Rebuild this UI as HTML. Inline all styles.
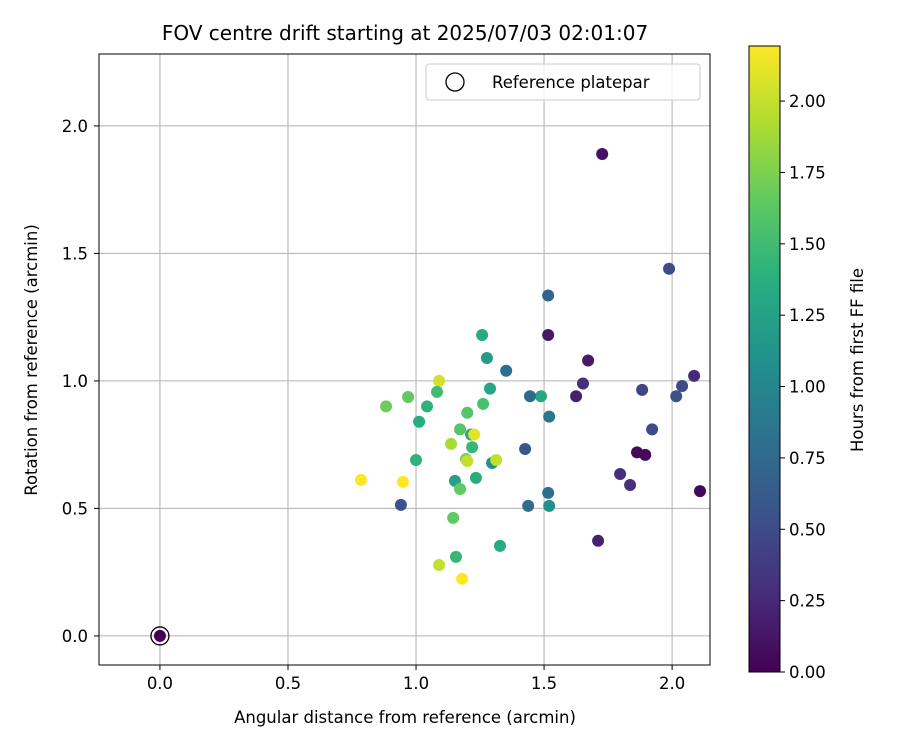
<!DOCTYPE html>
<html><head><meta charset="utf-8"><style>
body{margin:0;background:#fff;font-family:"Liberation Sans","DejaVu Sans",sans-serif}
text{font-family:"DejaVu Sans","Liberation Sans",sans-serif}
</style></head><body>
<svg id="chart" width="900" height="750" xmlns="http://www.w3.org/2000/svg">
<defs><linearGradient id="vir" x1="0" y1="1" x2="0" y2="0">
<stop offset="0" stop-color="#440154"/><stop offset="0.125" stop-color="#472d7b"/><stop offset="0.25" stop-color="#3b528b"/><stop offset="0.375" stop-color="#2c728e"/><stop offset="0.5" stop-color="#21918c"/><stop offset="0.625" stop-color="#28ae80"/><stop offset="0.75" stop-color="#5ec962"/><stop offset="0.875" stop-color="#addc30"/><stop offset="1" stop-color="#fde725"/></linearGradient></defs>
<rect width="900" height="750" fill="#fff"/>
<text x="405" y="40" text-anchor="middle" font-size="20">FOV centre drift starting at 2025/07/03 02:01:07</text>
<g id="grid"></g>
<g id="ticks"></g>
<g id="points"></g>
<rect x="99" y="54" width="611" height="611" fill="none" stroke="#000" stroke-width="1"/>
<text x="405" y="723" text-anchor="middle" font-size="16.5">Angular distance from reference (arcmin)</text>
<text transform="translate(37,360) rotate(-90)" text-anchor="middle" font-size="16.5">Rotation from reference (arcmin)</text>
<g>
<rect x="426" y="64" width="274" height="36" rx="3" fill="#fff" fill-opacity="0.8" stroke="#ccc"/>
<circle cx="455" cy="82" r="9" fill="none" stroke="#000" stroke-width="1.3"/>
<text x="492" y="88" font-size="16.5">Reference platepar</text>
</g>
<rect x="749" y="46" width="31" height="626" fill="url(#vir)" stroke="#000" stroke-width="1"/>
<g id="cticks"></g>
<text transform="translate(863,360) rotate(-90)" text-anchor="middle" font-size="16.5">Hours from first FF file</text>
</svg>
<script>
const xs=[1.727,1.988,1.516,1.516,1.258,1.277,1.352,1.672,1.652,2.086,2.039,1.883,2.016,1.625,1.488,1.445,1.52,1.922,1.289,1.262,1.2,1.09,1.082,0.969,0.883,1.043,1.012,1.172,1.137,1.215,1.227,1.219,1.426,1.0,1.195,1.2,1.297,1.313,1.234,1.152,1.172,1.863,1.895,1.797,1.836,2.109,0.785,0.949,0.941,1.516,1.438,1.52,1.145,1.328,1.156,1.711,1.09,1.18,0];
const ys=[1.89,1.44,1.335,1.18,1.18,1.09,1.04,1.08,0.99,1.02,0.98,0.965,0.94,0.94,0.94,0.94,0.86,0.81,0.97,0.91,0.875,1.0,0.957,0.937,0.90,0.90,0.84,0.81,0.753,0.79,0.79,0.74,0.733,0.69,0.694,0.686,0.678,0.69,0.62,0.608,0.576,0.72,0.71,0.635,0.592,0.568,0.612,0.604,0.514,0.561,0.51,0.51,0.463,0.353,0.31,0.373,0.278,0.224,0];
const hours=[0.1,0.5,0.7,0.15,1.35,1.2,0.8,0.15,0.3,0.25,0.5,0.45,0.55,0.2,1.3,0.75,0.85,0.5,1.3,1.55,1.6,2.05,1.5,1.65,1.7,1.4,1.35,1.6,1.9,1.3,2.1,1.45,0.6,1.4,1.75,2.0,1.1,2.0,1.35,1.25,1.65,0.05,0.05,0.3,0.3,0.05,2.2,2.2,0.55,0.8,0.75,1.1,1.65,1.35,1.45,0.2,2.0,2.2,0];
const xTicks=[0,0.5,1,1.5,2];
const yTicks=[0,0.5,1,1.5,2];
const cTicks=[0,0.25,0.5,0.75,1,1.25,1.5,1.75,2];
const xmin=-0.238,xmax=2.148,ymin=-0.114,ymax=2.282,cmax=2.193;
const X=v=>99+(v-xmin)/(xmax-xmin)*611;
const Y=v=>665-(v-ymin)/(ymax-ymin)*611;
const C=v=>672-v/cmax*626;
const vir=[[68,1,84],[71,45,123],[59,82,139],[44,114,142],[33,145,140],[40,174,128],[94,201,98],[173,220,48],[253,231,37]];
function col(h){let t=Math.max(0,Math.min(1,h/cmax))*8;let i=Math.min(7,Math.floor(t)),f=t-i;const a=vir[i],b=vir[i+1];return `rgb(${a.map((v,k)=>Math.round(v+(b[k]-v)*f)).join(',')})`;}
const NS='http://www.w3.org/2000/svg';
function mk(tag,attrs,parent,txt){const e=document.createElementNS(NS,tag);for(const k in attrs)e.setAttribute(k,attrs[k]);if(txt!==undefined)e.textContent=txt;parent.appendChild(e);return e;}
const g=document.getElementById('grid'),tk=document.getElementById('ticks'),pg=document.getElementById('points'),ct=document.getElementById('cticks');
xTicks.forEach(v=>{const x=X(v);
let l=mk('line',{x1:x,x2:x,y1:54,y2:665,stroke:'#b0b0b0','stroke-width':1},g);


mk('line',{x1:x,x2:x,y1:665,y2:670,stroke:'#000'},tk);
let t=mk('text',{x:x,y:689,'text-anchor':'middle','font-size':16.5},tk,v.toFixed(1));

});
yTicks.forEach(v=>{const y=Y(v);
let l=mk('line',{x1:99,x2:710,y1:y,y2:y,stroke:'#b0b0b0','stroke-width':1},g);


mk('line',{x1:94,x2:99,y1:y,y2:y,stroke:'#000'},tk);
let t=mk('text',{x:88,y:y+6,'text-anchor':'end','font-size':16.5},tk,v.toFixed(1));

});
cTicks.forEach(v=>{const y=C(v);
mk('line',{x1:780,x2:785,y1:y,y2:y,stroke:'#000'},ct);
let t=mk('text',{x:789,y:y+6,'font-size':16.5},ct,v.toFixed(2));

});
xs.forEach((v,i)=>{
let c=mk('circle',{cx:X(v),cy:Y(ys[i]),r:6,fill:col(hours[i])},pg);

});
let r=mk('circle',{cx:X(0),cy:Y(0),r:9,fill:'none',stroke:'#000','stroke-width':1.3},pg);


</script>
</body></html>
